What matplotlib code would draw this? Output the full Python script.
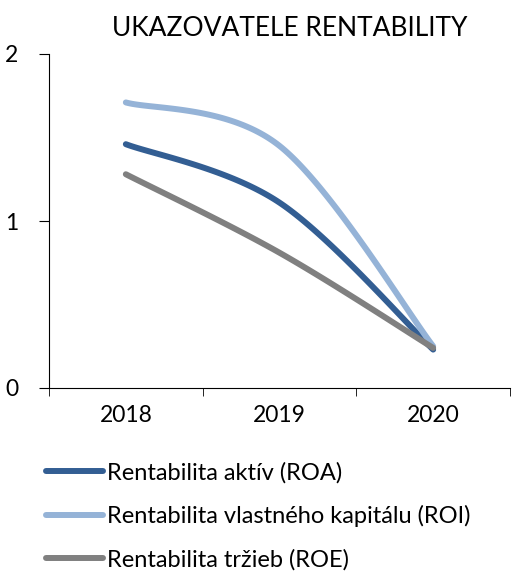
import numpy as np
import matplotlib
matplotlib.use("Agg")
import matplotlib.pyplot as plt

years = ["2018", "2019", "2020"]
roa = [1.46, 1.11, 0.23]
roi = [1.71, 1.45, 0.25]
roe = [1.28, 0.81, 0.24]
labels = ["Rentabilita aktív (ROA)",
          "Rentabilita vlastného kapitálu (ROI)",
          "Rentabilita tržieb (ROE)"]
colors = ["#335E93", "#95B3D7", "#808080"]

plt.rcParams["font.family"] = ["Lato", "DejaVu Sans"]


def smooth(xs, ys, n=60):
    # Excel-style smoothed line: cubic Bezier through the points
    p = np.column_stack([xs, ys]).astype(float)
    ext = np.vstack([p[0], p, p[-1]])
    out = []
    t = np.linspace(0, 1, n)[:, None]
    for i in range(len(p) - 1):
        p0, p1, p2, p3 = ext[i], ext[i + 1], ext[i + 2], ext[i + 3]
        c1 = p1 + (p2 - p0) / 6
        c2 = p2 - (p3 - p1) / 6
        seg = ((1 - t) ** 3) * p1 + 3 * ((1 - t) ** 2) * t * c1 + 3 * (1 - t) * t ** 2 * c2 + t ** 3 * p2
        out.append(seg)
    out = np.vstack(out)
    return out[:, 0], out[:, 1]


fig = plt.figure(figsize=(5.12, 5.74), dpi=100)
ax = fig.add_axes([49 / 512, 1 - 388 / 574, 461 / 512, 334 / 574])

x = np.arange(len(years))
for vals, lab, col in zip([roa, roi, roe], labels, colors):
    sx, sy = smooth(x, vals)
    ax.plot(sx, sy, color=col, lw=4.3, solid_capstyle="round", label=lab)

ax.set_xlim(-0.5, 2.5)
ax.set_ylim(0, 2)
ax.set_yticks([0, 1, 2])
ax.set_xticks(x)
ax.set_xticklabels(years)
ax.set_xticks([-0.5, 0.5, 1.5, 2.5], minor=True)
ax.tick_params(axis="x", which="major", length=0, pad=12, labelsize=16.5)
ax.tick_params(axis="x", which="minor", length=6, direction="out")
ax.tick_params(axis="y", length=7, pad=15, labelsize=16.5)
for s in ["top", "right"]:
    ax.spines[s].set_visible(False)

fig.text(290 / 512, 1 - 28 / 574, "UKAZOVATELE RENTABILITY", ha="center", va="center", fontsize=19)

fig.legend(loc="upper left", bbox_to_anchor=(46 / 512, 1 - 462 / 574), frameon=False,
           borderaxespad=0, borderpad=0,
           fontsize=17, handlelength=2.4, handletextpad=0.2, labelspacing=0.92)

fig.savefig("out.png", dpi=100)
